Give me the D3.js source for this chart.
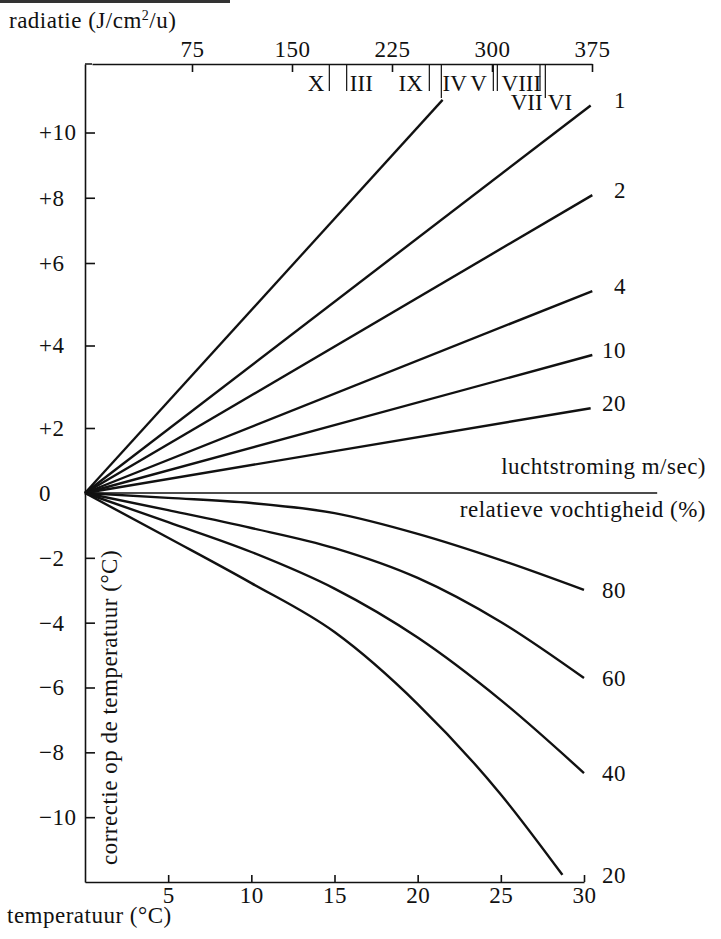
<!DOCTYPE html>
<html>
<head>
<meta charset="utf-8">
<script src="https://cdn.jsdelivr.net/npm/d3@7"></script>
<style>
  body { margin: 0; background: #fff; }
  svg text { font-family: "Liberation Serif", "Times New Roman", serif; font-size: 23px; fill: #111; letter-spacing: 0.5px; }
</style>
</head>
<body>
<svg id="chart" width="721" height="939"></svg>
<script>
// axis ticks
var tempTicks = [5, 10, 15, 20, 25, 30];
var radTicks = [75, 150, 225, 300, 375];
var corrTicks = [10, 8, 6, 4, 2, 0, -2, -4, -6, -8, -10];
var corrTickLabels = ['+10', '+8', '+6', '+4', '+2', '0', '\u22122', '\u22124', '\u22126', '\u22128', '\u221210'];

// monthly radiation marks on the top axis (J/cm2/u)
var monthDividers = [178, 191, 253, 262, 301, 304, 336, 340];
var monthLongDividers = [262, 340];
var monthNames = ['X', 'III', 'IX', 'IV', 'V', 'VIII', 'VII', 'VI'];
var monthNameRad = [168, 202, 239, 272, 290, 322, 326, 351];
var monthNameRow = [0, 0, 0, 0, 0, 0, 1, 1];

// radiation line (temperature, correction) at its top end
var radiationEnd = [21.5, 11.0];

// wind speed lines (m/sec): end points
var windLabels = ['1', '2', '4', '10', '20'];
var windEndTemp = [30.4, 30.5, 30.5, 30.5, 30.4];
var windEndCorr = [10.83, 8.08, 5.32, 3.77, 2.48];
var neutralEndTemp = 34.4;

// relative humidity curves (%)
var humLabels = ['80', '60', '40', '20'];
var humTemps = [
  [0, 5, 10, 15, 20, 25, 30],
  [0, 5, 10, 15, 20, 25, 30],
  [0, 5, 10, 15, 20, 25, 30],
  [0, 5, 10, 15, 20, 25, 28.7]
];
var humCorr = [
  [0, -0.15, -0.31, -0.62, -1.26, -2.07, -2.99],
  [0, -0.53, -1.08, -1.70, -2.62, -3.98, -5.71],
  [0, -0.90, -1.82, -2.95, -4.46, -6.39, -8.64],
  [0, -1.38, -2.78, -4.29, -6.51, -9.30, -11.78]
];

drawChart();

function drawChart() {
  var svg = d3.select('#chart');
  var plotLeft = 85, plotRight = 584, plotTop = 64, plotBottom = 882;

  var x = d3.scaleLinear().domain([0, 30]).range([plotLeft, plotRight]);
  var rad = d3.scaleLinear().domain([0, 375]).range([92, 592]);
  // the printed scale is not evenly spaced above zero
  var y = d3.scaleLinear().domain([-12, 0, 2, 6, 12.1]).range([plotBottom, 493, 428, 263, plotTop]);

  // stray rule at top of the page
  svg.append('line').attr('x1', 0).attr('x2', 230).attr('y1', 1.5).attr('y2', 1.5)
    .attr('stroke', '#333').attr('stroke-width', 3);

  // title of top axis
  var t = svg.append('text').attr('x', 9).attr('y', 28);
  t.append('tspan').text('radiatie (J/cm');
  t.append('tspan').text('2').attr('dy', -8).style('font-size', '14px');
  t.append('tspan').text('/u)').attr('dy', 8);

  // bottom axis
  var xAxis = svg.append('g').attr('transform', 'translate(0,' + plotBottom + ')')
    .call(d3.axisBottom(x).tickValues(tempTicks).tickSizeInner(-7).tickSizeOuter(0).tickPadding(5));

  // top axis
  var rAxis = svg.append('g').attr('transform', 'translate(0,' + plotTop + ')')
    .call(d3.axisTop(rad).tickValues(radTicks).tickSizeInner(-8).tickSizeOuter(0).tickPadding(7));
  svg.append('line').attr('x1', plotLeft).attr('x2', rad(0)).attr('y1', plotTop).attr('y2', plotTop)
    .attr('stroke', '#111').attr('stroke-width', 1.5);

  // left axis
  var yAxis = svg.append('g').attr('transform', 'translate(' + plotLeft + ',0)')
    .call(d3.axisLeft(y).tickValues(corrTicks).tickSizeInner(-10).tickSizeOuter(0)
      .tickFormat(function(d, i) { return corrTickLabels[i]; }));
  yAxis.selectAll('text').attr('text-anchor', 'start').attr('x', 39 - plotLeft);

  [xAxis, rAxis, yAxis].forEach(function(g) {
    g.attr('font-family', null).attr('font-size', null);
    g.selectAll('path, line').attr('stroke', '#111').attr('stroke-width', 1.6);
  });

  // month dividers and names
  svg.selectAll('.month-div').data(monthDividers).enter().append('line')
    .attr('class', 'month-div')
    .attr('x1', function(d) { return rad(d); }).attr('x2', function(d) { return rad(d); })
    .attr('y1', plotTop)
    .attr('y2', function(d) { return monthLongDividers.indexOf(d) >= 0 ? plotTop + 34 : plotTop + 27; })
    .attr('stroke', '#111').attr('stroke-width', 1.2);

  svg.selectAll('.month-name').data(monthNames).enter().append('text')
    .attr('class', 'month-name')
    .attr('x', function(d, i) { return rad(monthNameRad[i]); })
    .attr('y', function(d, i) { return monthNameRow[i] ? plotTop + 46 : plotTop + 27; })
    .attr('text-anchor', 'middle')
    .style('letter-spacing', '0px')
    .text(function(d) { return d; });

  var line = d3.line().x(function(d) { return x(d[0]); }).y(function(d) { return y(d[1]); });
  var curve = d3.line().x(function(d) { return x(d[0]); }).y(function(d) { return y(d[1]); }).curve(d3.curveMonotoneX);

  // radiation line
  svg.append('path').attr('d', line([[0, 0], radiationEnd]))
    .attr('fill', 'none').attr('stroke', '#111').attr('stroke-width', 2.3);

  // wind lines
  windLabels.forEach(function(lab, i) {
    svg.append('path').attr('d', line([[0, 0], [windEndTemp[i], windEndCorr[i]]]))
      .attr('fill', 'none').attr('stroke', '#111').attr('stroke-width', 2.4);
    svg.append('text').attr('x', 626).attr('y', y(windEndCorr[i]) - 5).attr('dy', '0.35em')
      .attr('text-anchor', 'end').text(lab);
  });

  // zero line
  svg.append('path').attr('d', line([[0, 0], [neutralEndTemp, 0]]))
    .attr('fill', 'none').attr('stroke', '#111').attr('stroke-width', 1.6);
  svg.append('text').attr('x', 706).attr('y', y(0) - 19).attr('text-anchor', 'end').text('luchtstroming m/sec)');
  svg.append('text').attr('x', 706).attr('y', y(0) + 24).attr('text-anchor', 'end').text('relatieve vochtigheid (%)');

  // humidity curves
  humLabels.forEach(function(lab, i) {
    var pts = humTemps[i].map(function(tv, j) { return [tv, humCorr[i][j]]; });
    svg.append('path').attr('d', curve(pts))
      .attr('fill', 'none').attr('stroke', '#111').attr('stroke-width', 2.4);
    var last = pts[pts.length - 1];
    svg.append('text').attr('x', 626).attr('y', y(last[1])).attr('dy', '0.35em')
      .attr('text-anchor', 'end').text(lab);
  });

  // axis titles
  svg.append('text').attr('x', 7).attr('y', 923).text('temperatuur (\u00B0C)');
  svg.append('text').attr('transform', 'translate(117,865) rotate(-90)').text('correctie op de temperatuur (\u00B0C)');
}
</script>
</body>
</html>
